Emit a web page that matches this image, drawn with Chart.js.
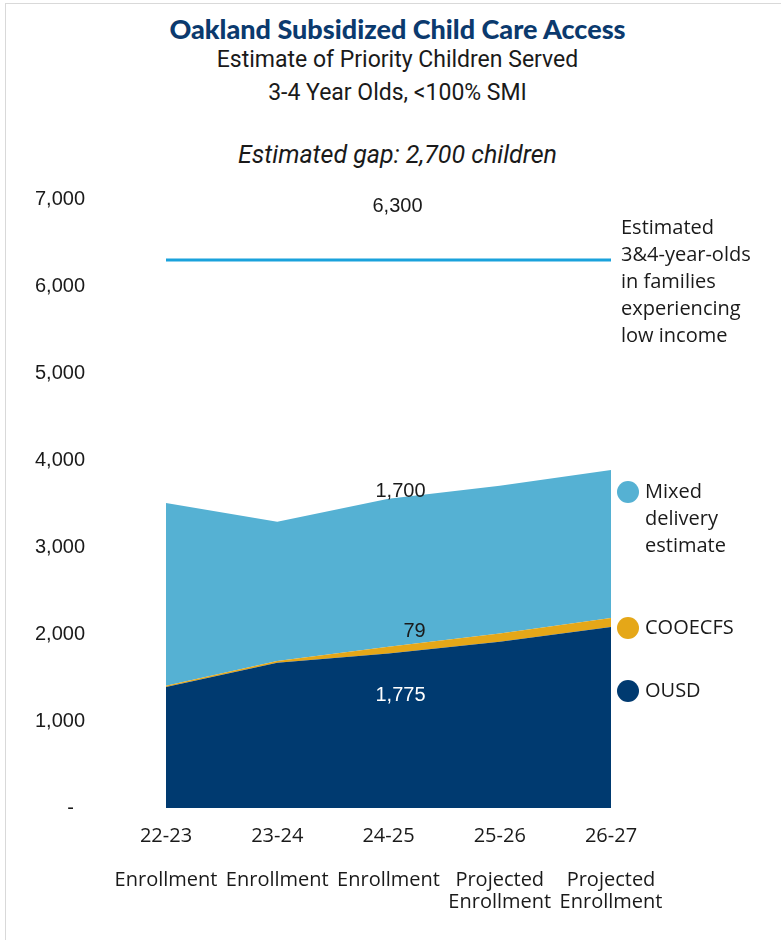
<!DOCTYPE html>
<html>
<head>
<meta charset="utf-8">
<script src="https://cdn.jsdelivr.net/npm/chart.js@4.4.1/dist/chart.umd.min.js"></script>
<style>
    body { margin: 0; background: #fff; }
    #wrap { position: relative; width: 781px; height: 940px; overflow: hidden; }
    #frame { position: absolute; left: 5px; top: 3px; width: 800px; height: 960px; border-left: 1px solid #d9d9d9; border-top: 1px solid #d9d9d9; }
    .hd { position: absolute; left: 0; width: 795px; text-align: center; color: #1a1a1a; white-space: nowrap; }
    #title { top: 12px; font: 900 27px Lato, sans-serif; color: #0b3a6e; }
    #sub1 { top: 46px; font: 23px Roboto, sans-serif; }
    #sub2 { top: 79px; font: 23px Roboto, sans-serif; }
    #gap { top: 140px; font: italic 25px Roboto, sans-serif; }
    canvas { position: absolute; left: 0; top: 0; }
</style>
</head>
<body>
<div id="wrap">
    <div id="frame"></div>
    <div class="hd" id="title">Oakland Subsidized Child Care Access</div>
    <div class="hd" id="sub1">Estimate of Priority Children Served</div>
    <div class="hd" id="sub2">3-4 Year Olds, &lt;100% SMI</div>
    <div class="hd" id="gap">Estimated gap: 2,700 children</div>
    <canvas id="chart" width="781" height="940"></canvas>
</div>
<script>
const years = ["22-23", "23-24", "24-25", "25-26", "26-27"];
const stages = [["Enrollment"], ["Enrollment"], ["Enrollment"], ["Projected", "Enrollment"], ["Projected", "Enrollment"]];

const ousd = [1390, 1670, 1775, 1910, 2080];
const cooecfs = [15, 20, 79, 95, 105];
const mixedDelivery = [2100, 1600, 1700, 1700, 1700];
const lowIncomeKids = [6300, 6300, 6300, 6300, 6300];

const yTicks = [0, 1000, 2000, 3000, 4000, 5000, 6000, 7000];

const NAVY = "#003a70";
const GOLD = "#e5a718";
const SKY = "#55b1d3";
const LINE_BLUE = "#1aa2dc";

const tickFont = "Liberation Sans, Arial, sans-serif";
const bodyFont = "'Open Sans', sans-serif";

// value labels for the middle year plus the side notes and legend
const annotations = {
    id: "annotations",
    afterDatasetsDraw(chart) {
        const ctx = chart.ctx;
        const area = chart.chartArea;
        const mid = 2;
        const pt = (ds) => chart.getDatasetMeta(ds).data[mid];

        ctx.save();
        ctx.textAlign = "center";
        ctx.textBaseline = "middle";
        ctx.font = `20px ${tickFont}`;

        ctx.fillStyle = "#1a1a1a";
        ctx.fillText(lowIncomeKids[mid].toLocaleString("en-US"), pt(3).x + 9, pt(3).y - 53);
        ctx.fillText(mixedDelivery[mid].toLocaleString("en-US"), pt(2).x + 12, pt(2).y - 7);
        ctx.fillText(String(cooecfs[mid]), pt(1).x + 26, pt(1).y - 15);
        ctx.fillStyle = "#ffffff";
        ctx.fillText(ousd[mid].toLocaleString("en-US"), pt(0).x + 12, pt(0).y + 42);

        // note next to the target line
        ctx.textAlign = "left";
        ctx.fillStyle = "#1a1a1a";
        ctx.font = `20px ${bodyFont}`;
        const note = ["Estimated", "3&4-year-olds", "in families", "experiencing", "low income"];
        note.forEach((t, i) => ctx.fillText(t, area.right + 10, 228 + i * 27));

        // legend
        const items = [
            { color: SKY, lines: ["Mixed", "delivery", "estimate"], y: 492 },
            { color: GOLD, lines: ["COOECFS"], y: 628 },
            { color: NAVY, lines: ["OUSD"], y: 691 },
        ];
        items.forEach(it => {
            ctx.fillStyle = it.color;
            ctx.beginPath();
            ctx.arc(area.right + 17, it.y, 11, 0, Math.PI * 2);
            ctx.fill();
            ctx.fillStyle = "#1a1a1a";
            it.lines.forEach((t, i) => ctx.fillText(t, area.right + 34, it.y + i * 27));
        });
        ctx.restore();
    }
};

new Chart(document.getElementById("chart").getContext("2d"), {
    type: "line",
    data: {
        labels: years.map((y, i) => [y, "", ...stages[i]]),
        datasets: [
            { label: "OUSD", data: ousd, backgroundColor: NAVY, fill: "origin", stack: "served" },
            { label: "COOECFS", data: cooecfs, backgroundColor: GOLD, fill: "-1", stack: "served" },
            { label: "Mixed delivery estimate", data: mixedDelivery, backgroundColor: SKY, fill: "-1", stack: "served" },
            { label: "Estimated 3&4-year-olds in families experiencing low income", data: lowIncomeKids,
              borderColor: LINE_BLUE, borderWidth: 3, fill: false, stack: "target" },
        ].map(ds => ({ borderWidth: 0, pointRadius: 0, tension: 0, ...ds }))
    },
    options: {
        responsive: false,
        animation: false,
        layout: { padding: { top: 199, right: 170, left: 0, bottom: 0 } },
        plugins: { legend: { display: false }, tooltip: { enabled: false } },
        scales: {
            x: {
                offset: false,
                grid: { display: false, drawTicks: false },
                border: { display: false },
                ticks: {
                    color: "#1a1a1a",
                    font: { family: bodyFont, size: 20, lineHeight: 1.11 },
                    padding: 17,
                    maxRotation: 0,
                    autoSkip: false
                },
                afterFit: s => { s.height = 132; }
            },
            y: {
                stacked: true,
                min: 0,
                max: 7000,
                afterBuildTicks: s => { s.ticks = yTicks.map(v => ({ value: v })); },
                grid: { display: false, drawTicks: false },
                border: { display: false },
                ticks: {
                    color: "#1a1a1a",
                    font: { family: tickFont, size: 20 },
                    padding: 81,
                    callback: v => v === 0 ? "-  " : v.toLocaleString("en-US")
                },
                afterFit: s => { s.width = 166; }
            }
        }
    },
    plugins: [annotations]
});
</script>
</body>
</html>
